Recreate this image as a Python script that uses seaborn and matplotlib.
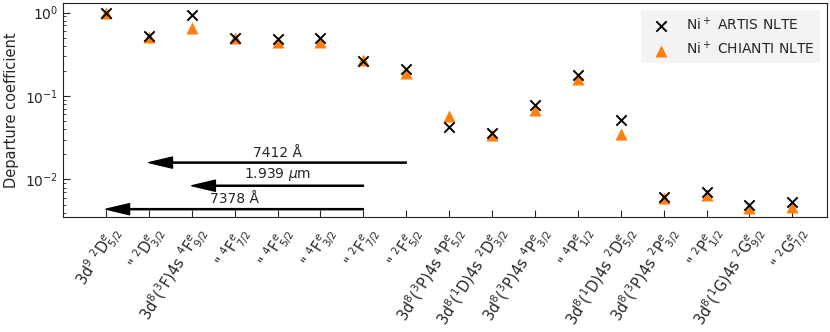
import numpy as np
import pandas as pd
import matplotlib
matplotlib.use("Agg")
import matplotlib.pyplot as plt
import seaborn as sns

# ── Data ─────────────────────────────────────────────────────────────────────
levels = [
    r"3d$^9$ $^2$D$^e_{5/2}$",
    r'" $^2$D$^e_{3/2}$',
    r"3d$^8$($^3$F)4s $^4$F$^e_{9/2}$",
    r'" $^4$F$^e_{7/2}$',
    r'" $^4$F$^e_{5/2}$',
    r'" $^4$F$^e_{3/2}$',
    r'" $^2$F$^e_{7/2}$',
    r'" $^2$F$^e_{5/2}$',
    r"3d$^8$($^3$P)4s $^4$P$^e_{5/2}$",
    r"3d$^8$($^1$D)4s $^2$D$^e_{3/2}$",
    r"3d$^8$($^3$P)4s $^4$P$^e_{3/2}$",
    r'" $^4$P$^e_{1/2}$',
    r"3d$^8$($^1$D)4s $^2$D$^e_{5/2}$",
    r"3d$^8$($^3$P)4s $^2$P$^e_{3/2}$",
    r'" $^2$P$^e_{1/2}$',
    r"3d$^8$($^1$G)4s $^2$G$^e_{9/2}$",
    r'" $^2$G$^e_{7/2}$',
]
artis = [1.0, 0.52, 0.93, 0.50, 0.48, 0.50, 0.26, 0.21, 0.042, 0.036,
         0.078, 0.177, 0.051, 0.0062, 0.0071, 0.0049, 0.0054]
chianti = [0.98, 0.51, 0.66, 0.50, 0.44, 0.44, 0.27, 0.19, 0.057, 0.034,
           0.067, 0.158, 0.035, 0.0060, 0.0065, 0.0045, 0.0047]

# transitions: (upper level index, lower level index, y, label)
arrow_upper = [7, 6, 6]
arrow_lower = [1, 2, 0]
arrow_y = [0.0159, 0.0084, 0.0044]
arrow_text = [r"7412 Å", r"1.939 $\mu$m", r"7378 Å"]

df = pd.DataFrame({"idx": np.arange(len(levels)), "artis": artis, "chianti": chianti})

# ── Plot ─────────────────────────────────────────────────────────────────────
sns.set_style("ticks")
plt.rcParams["font.family"] = ["DejaVu Sans"]
plt.rcParams["mathtext.fontset"] = "dejavusans"

fig, ax = plt.subplots(figsize=(8.3, 3.32), dpi=100)

sns.scatterplot(data=df, x="idx", y="artis", ax=ax, marker="x", color="black",
                s=55, linewidth=1.4, label=r"Ni$^+$ ARTIS NLTE", zorder=3)
sns.scatterplot(data=df, x="idx", y="chianti", ax=ax, marker="^", color="#ff7f0e",
                s=75, linewidth=0, label=r"Ni$^+$ CHIANTI NLTE", zorder=2)

for up, lo, y, txt in zip(arrow_upper, arrow_lower, arrow_y, arrow_text):
    ax.annotate("", xy=(lo, y), xytext=(up, y),
                arrowprops=dict(facecolor="black", edgecolor="black",
                                width=0.8, headwidth=8, headlength=17, shrink=0))
    ax.text((up + lo) / 2, y * 1.08, txt, ha="center", va="bottom", fontsize=10)

ax.set_yscale("log")
ax.set_ylim(0.0035, 1.29)
ax.set_xlim(-1, 16.8)
ax.set_xticks(df["idx"])
ax.set_xticklabels(levels, rotation=58, ha="right", rotation_mode="anchor",
                   fontsize=10.5)
ax.set_xlabel("")
ax.set_ylabel("Departure coefficient", fontsize=10.5)
ax.tick_params(axis="both", which="both", direction="in")
ax.tick_params(axis="both", which="major", length=5)
for sp in ax.spines.values():
    sp.set_color("#222222")

leg = ax.legend(loc="upper right", fontsize=10, frameon=True, fancybox=True)
leg.get_frame().set_facecolor("#f0f0f0")
leg.get_frame().set_edgecolor("none")

plt.subplots_adjust(left=0.076, right=0.996, top=0.99, bottom=0.345)
plt.savefig("out.png", dpi=100)
plt.close()
